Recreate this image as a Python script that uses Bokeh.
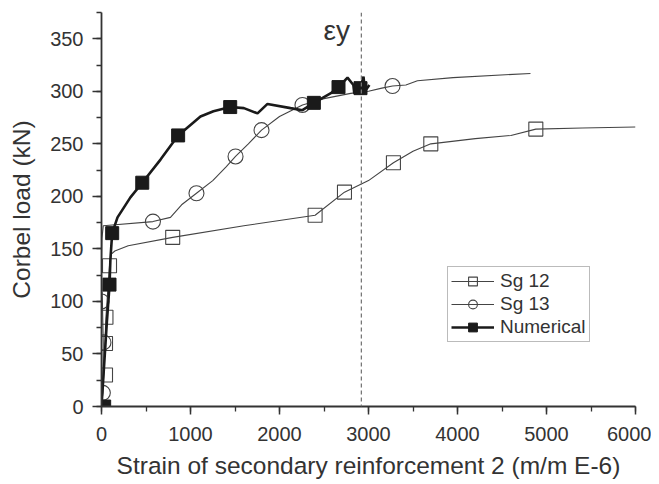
from bokeh.plotting import figure
from bokeh.models import (Range1d, SingleIntervalTicker, Span, Label, Legend, LegendItem)
from bokeh.embed import file_html
from bokeh.resources import INLINE

# ---- data ----
sg12_line_x = [0, 10, 25, 40, 45, 50, 70, 90, 110, 150, 300, 800, 1600, 2400, 2730, 3000, 3280, 3500, 3700, 4200, 4600, 4880, 5400, 6000]
sg12_line_y = [0, 10, 30, 60, 75, 85, 110, 134, 145, 148, 153, 161, 172, 182, 204, 215, 232, 243, 250, 255, 258, 264, 265, 266]
sg12_mark_x = [45, 45, 50, 90, 800, 2400, 2730, 3280, 3700, 4880]
sg12_mark_y = [30, 60, 85, 134, 161, 182, 204, 232, 250, 264]

sg13_line_x = [0, 15, 20, 10, 0, 5, 20, 578, 775, 900, 1067, 1250, 1400, 1506, 1650, 1798, 2000, 2258, 2500, 2800, 3000, 3150, 3270, 3420, 3550, 3950, 4820]
sg13_line_y = [0, 13, 60, 100, 130, 160, 172, 176, 180, 192, 203, 215, 228, 238, 250, 263, 276, 287, 293, 298, 300, 303, 305, 306, 310, 313, 317]
sg13_mark_x = [15, 22, 0, 578, 1067, 1506, 1798, 2258, 3270]
sg13_mark_y = [13, 61, 100, 176, 203, 238, 263, 287, 305]

num_line_x = [0, 30, 60, 90, 100, 120, 180, 325, 458, 663, 861, 1000, 1112, 1258, 1446, 1600, 1753, 1865, 2124, 2258, 2386, 2573, 2663, 2764, 2830, 2840, 2910, 2944, 2960, 3010]
num_line_y = [0, 40, 80, 115, 140, 165, 180, 199, 213, 235, 258, 268, 276, 281, 285, 284, 279, 288, 284, 282, 289, 298, 304, 313, 306, 298, 303, 314, 300, 306]
num_mark_x = [30, 90, 120, 458, 861, 1446, 2386, 2663, 2910]
num_mark_y = [0, 116, 165, 213, 258, 285, 289, 304, 303]

yield_strain = 2920
x_label = "Strain of secondary reinforcement 2 (m/m E-6)"
y_label = "Corbel load (kN)"

FONT = "Liberation Sans"
INK = "#333333"

p = figure(width=651, height=480, frame_width=534, frame_height=394,
           min_border_left=101, min_border_right=16, min_border_top=12, min_border_bottom=74,
           x_range=Range1d(0, 6000), y_range=Range1d(0, 375),
           output_backend="svg", toolbar_location=None)
p.outline_line_color = None
p.xgrid.visible = False
p.ygrid.visible = False
p.background_fill_color = "white"
p.border_fill_color = "white"

p.xaxis.ticker = SingleIntervalTicker(interval=1000, num_minor_ticks=2)
p.yaxis.ticker = SingleIntervalTicker(interval=50, num_minor_ticks=2)
for ax in (p.xaxis, p.yaxis):
    ax.axis_line_width = 1.8
    ax.axis_line_color = INK
    ax.major_tick_line_color = INK
    ax.minor_tick_line_color = INK
    ax.major_tick_line_width = 1.5
    ax.minor_tick_line_width = 1.3
    ax.major_tick_in = 0
    ax.minor_tick_in = 0
    ax.major_label_text_font = FONT
    ax.major_label_text_font_size = "20px"
    ax.major_label_text_color = INK
    ax.axis_label_text_font = FONT
    ax.axis_label_text_font_size = "24.5px"
    ax.axis_label_text_color = INK
    ax.axis_label_text_font_style = "normal"
p.xaxis.major_tick_out = 8
p.xaxis.minor_tick_out = 5
p.yaxis.major_tick_out = 9
p.yaxis.minor_tick_out = 5
p.xaxis.major_label_standoff = 12
p.yaxis.major_label_standoff = 9
p.xaxis.axis_label = x_label
p.xaxis.axis_label_standoff = 8
p.yaxis.axis_label = y_label
p.yaxis.axis_label_standoff = 12

# dashed yield line and its label
p.add_layout(Span(location=yield_strain, dimension="height", line_color="#777777",
                  line_width=1.3, line_dash="4 3"))
p.add_layout(Label(x=2494, y=358, text="εy", text_baseline="alphabetic",
                   text_font=FONT, text_font_size="28px", text_color=INK))

l12 = p.line(sg12_line_x, sg12_line_y, line_color="#444444", line_width=1.1)
m12 = p.scatter(sg12_mark_x, sg12_mark_y, marker="square", size=14, fill_alpha=0,
                line_color="#444444", line_width=1.1)
l13 = p.line(sg13_line_x, sg13_line_y, line_color="#444444", line_width=1.1)
m13 = p.scatter(sg13_mark_x, sg13_mark_y, marker="circle", size=15, fill_alpha=0,
                line_color="#444444", line_width=1.1)
ln = p.line(num_line_x, num_line_y, line_color="#1a1a1a", line_width=2.6)
mn = p.scatter(num_mark_x, num_mark_y, marker="square", size=13, fill_color="#1a1a1a",
               line_color="#1a1a1a")

legend = Legend(items=[LegendItem(label="Sg 12", renderers=[l12, m12]),
                       LegendItem(label="Sg 13", renderers=[l13, m13]),
                       LegendItem(label="Numerical", renderers=[ln, mn])],
                location=(346, 64), glyph_width=43, glyph_height=22, spacing=1,
                padding=3, margin=0, label_standoff=6,
                label_text_font=FONT, label_text_font_size="19px", label_text_color=INK,
                border_line_color="#777777", border_line_width=1,
                background_fill_color="white", background_fill_alpha=1)
p.add_layout(legend, "center")

open("out.html", "w").write(file_html(p, INLINE))
